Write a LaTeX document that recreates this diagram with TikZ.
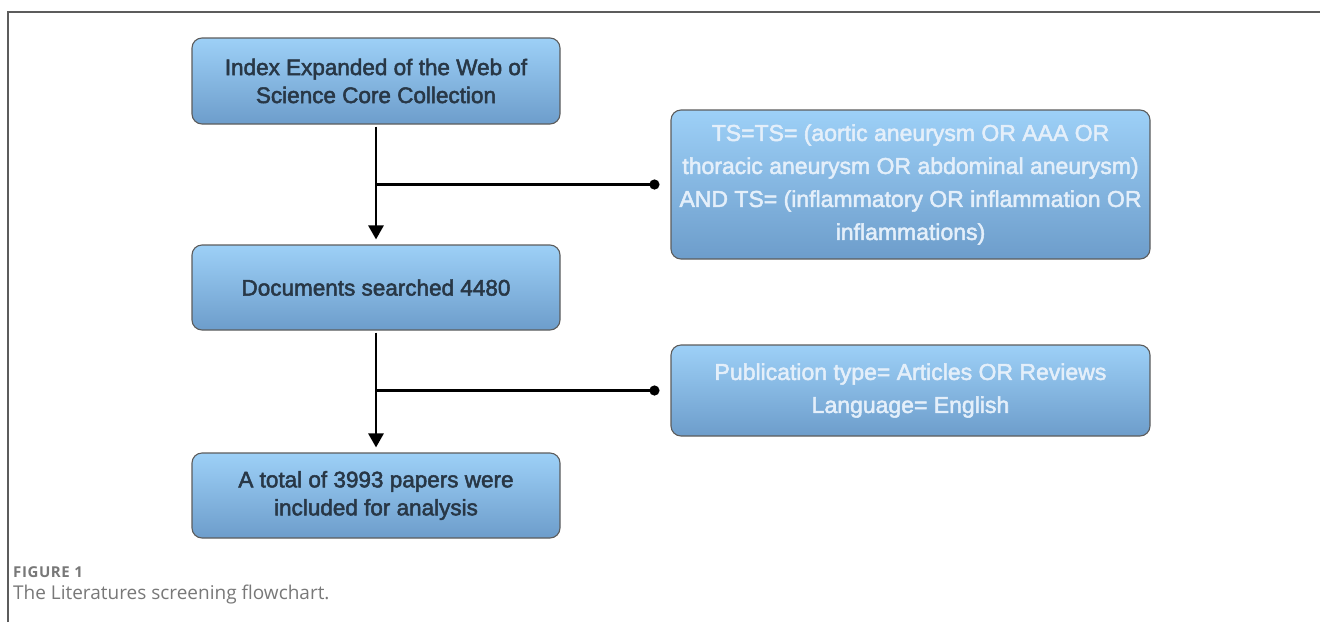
\documentclass[tikz,border=0pt]{standalone}
\usepackage{fontspec}
\setmainfont{Liberation Sans}
\newfontfamily\boxfont{Liberation Sans}[FakeBold=2.2]
\newfontfamily\capfont{Open Sans}
\newfontfamily\figfont{Open Sans}[LetterSpace=4]
\usetikzlibrary{arrows.meta,calc,positioning}

\definecolor{boxtop}{HTML}{9DD0F7}
\definecolor{boxbot}{HTML}{6D9DCB}
\definecolor{boxline}{HTML}{5C5C5C}
\definecolor{darktxt}{HTML}{283746}
\definecolor{lighttxt}{HTML}{E4EFFA}
\definecolor{capgray}{HTML}{787878}

\tikzset{
  box/.style={draw=boxline,line width=1.1pt,rounded corners=10pt,
    top color=boxtop,bottom color=boxbot,align=center,text=darktxt,
    font=\boxfont\fontsize{22.5}{28}\selectfont,inner sep=0pt},
  qbox/.style={box,text=lighttxt,font=\boxfont\fontsize{23}{33}\selectfont},
  flow/.style={line width=2.8pt,-{Triangle[length=14pt,width=15pt]}},
  tap/.style={line width=2.8pt,-{Circle[length=10pt]}}
}

\begin{document}
\begin{tikzpicture}[x=1pt,y=-1pt]
\useasboundingbox (0,0) rectangle (1320,622);
\draw[boxline,line width=1.4pt] (8,622)--(8,12)--(1320,12);

\node[box,minimum width=368pt,minimum height=86pt] (src) at (376,81)
  {Index Expanded of the Web of\\Science Core Collection};
\node[qbox,minimum width=479pt,minimum height=149pt] (query) at (910.5,184.5)
  {TS=TS= (aortic aneurysm OR AAA OR\\thoracic aneurysm OR abdominal aneurysm)\\AND TS= (inflammatory OR inflammation OR\\inflammations)};
\node[box,minimum width=368pt,minimum height=85pt] (docs) at (376,287.5)
  {Documents searched 4480};
\node[qbox,minimum width=479pt,minimum height=91pt] (filt) at (910.5,390.5)
  {Publication type= Articles OR Reviews\\Language= English};
\node[box,minimum width=368pt,minimum height=85pt] (final) at (376,495.5)
  {A total of 3993 papers were\\included for analysis};

\draw[flow,shorten <=2pt,shorten >=5pt] (src) -- (docs);
\draw[flow,shorten <=2pt,shorten >=5pt] (docs) -- (final);
\draw[tap,shorten >=11pt] (src.south |- query.west) -- (query.west);
\draw[tap,shorten >=11pt] (docs.south |- filt.west) -- (filt.west);

\node[anchor=base west,text=capgray,inner sep=0pt,font=\figfont\bfseries\fontsize{15}{18}\selectfont] (fig) at (13,577) {FIGURE 1};
\node[anchor=base west,text=capgray,inner sep=0pt,font=\capfont\fontsize{19}{22}\selectfont] (cap) at (13,599) {The Literatures screening flowchart.};
\end{tikzpicture}
\end{document}
